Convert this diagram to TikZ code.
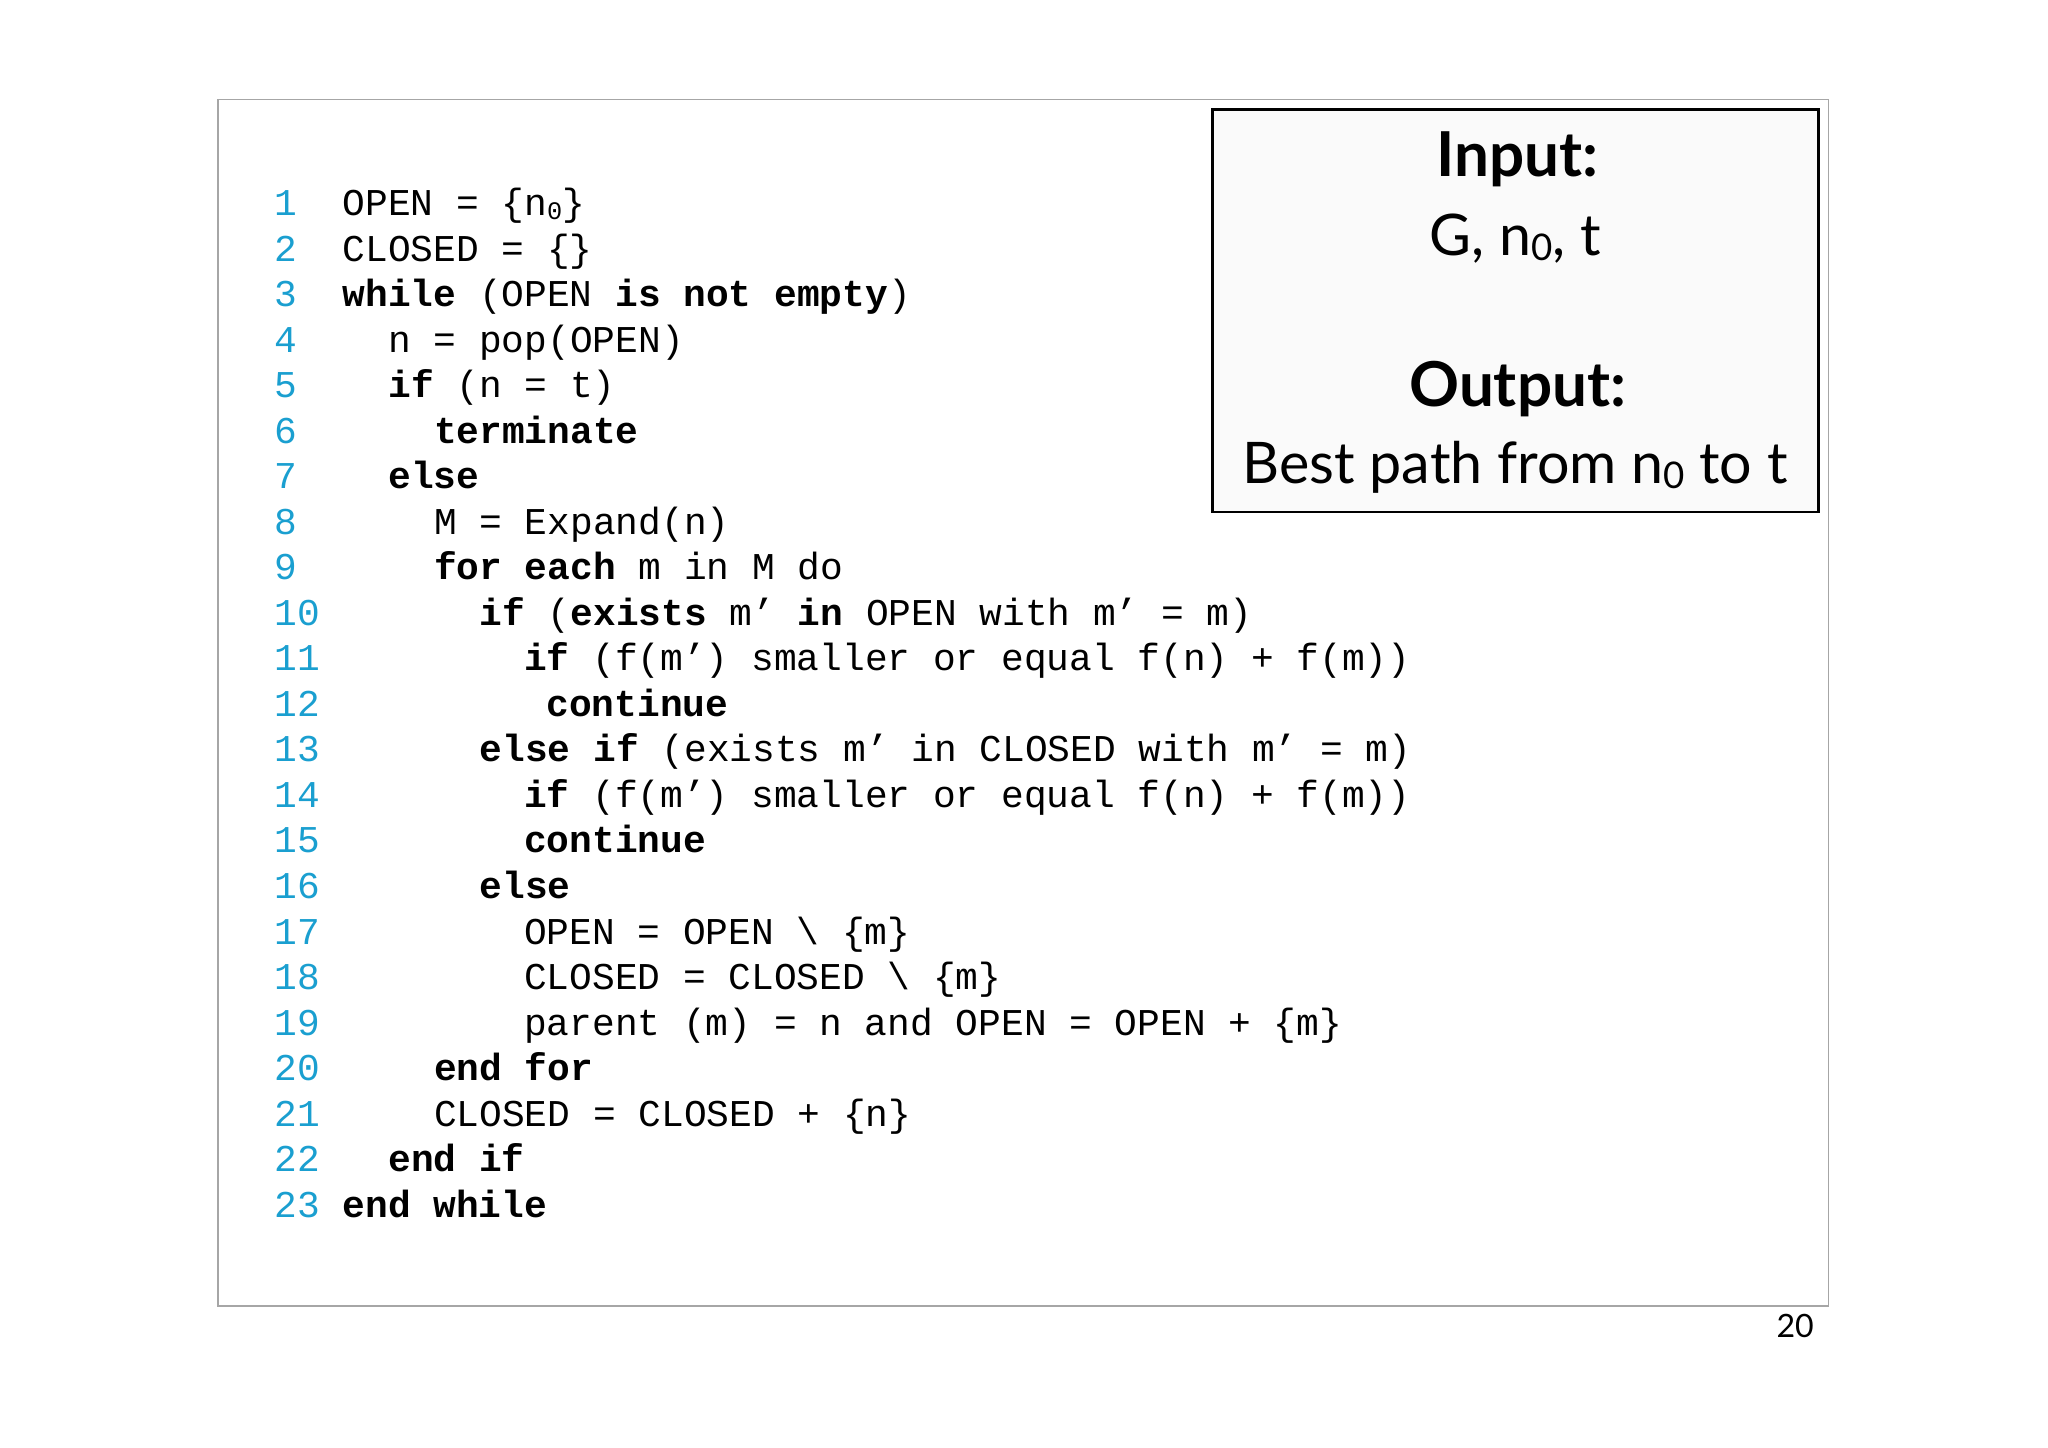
\documentclass[tikz,border=0pt]{standalone}
\usepackage{fontspec}
\setmainfont{Lato}
\setmonofont{Liberation Mono}
\definecolor{lnum}{HTML}{1A9FD0}
\begin{document}
\begin{tikzpicture}[x=0.02cm,y=-0.02cm,
  code/.style={anchor=base west,inner sep=0pt,font=\ttfamily\fontsize{16.5}{18}\selectfont},
  num/.style={anchor=base west,inner sep=0pt,text=lnum,font=\ttfamily\fontsize{16.5}{18}\selectfont},
  box/.style={anchor=center,inner sep=0pt}]
\useasboundingbox (0,0) rectangle (1568,1108);
\fill[white] (0,0) rectangle (1568,1108);
\draw[gray!70,line width=0.6pt] (167,76) rectangle (1400,1000);
\node[anchor=base east,inner sep=0pt,font=\fontsize{14}{16}\selectfont] (pg) at (1389,1024) {20};
\draw[fill=gray!4,line width=1.3pt] (928,84) rectangle (1392,392);
\node[box,font=\fontsize{27}{30}\selectfont\bfseries] (in) at (1162,122) {Input:};
\node[box,font=\fontsize{25}{28}\selectfont] (inv) at (1160,183) {G, n\raisebox{-0.15ex}{\fontsize{16}{16}\selectfont 0}, t};
\node[box,font=\fontsize{27}{30}\selectfont\bfseries] (out) at (1162,298) {Output:};
\node[box,font=\fontsize{25}{28}\selectfont] (outv) at (1160,358) {Best path from n\raisebox{-0.15ex}{\fontsize{16}{16}\selectfont 0} to t};
\def\ln#1#2#3{\node[num] (n#1) at (210,{156+(#1-1)*34.86+9}) {#1}; \node[code] (c#1) at (#2,{156+(#1-1)*34.86+9}) {#3};}
\ln{1}{262}{OPEN = \{n\raisebox{-0.2ex}{\fontsize{11}{11}\selectfont 0}\}}
\ln{2}{262}{CLOSED = \{\}}
\ln{3}{262}{\textbf{while} (OPEN \textbf{is not empty})}
\ln{4}{297}{n = pop(OPEN)}
\ln{5}{297}{\textbf{if} (n = t)}
\ln{6}{332}{\textbf{terminate}}
\ln{7}{297}{\textbf{else}}
\ln{8}{332}{M = Expand(n)}
\ln{9}{332}{\textbf{for each} m in M do}
\ln{10}{367}{\textbf{if} (\textbf{exists} m’ \textbf{in} OPEN with m’ = m)}
\ln{11}{401}{\textbf{if} (f(m’) smaller or equal f(n) + f(m))}
\ln{12}{418}{\textbf{continue}}
\ln{13}{367}{\textbf{else if} (exists m’ in CLOSED with m’ = m)}
\ln{14}{401}{\textbf{if} (f(m’) smaller or equal f(n) + f(m))}
\ln{15}{401}{\textbf{continue}}
\ln{16}{367}{\textbf{else}}
\ln{17}{401}{OPEN = OPEN \textbackslash{} \{m\}}
\ln{18}{401}{CLOSED = CLOSED \textbackslash{} \{m\}}
\ln{19}{401}{parent (m) = n and OPEN = OPEN + \{m\}}
\ln{20}{332}{\textbf{end for}}
\ln{21}{332}{CLOSED = CLOSED + \{n\}}
\ln{22}{297}{\textbf{end if}}
\ln{23}{262}{\textbf{end while}}
\end{tikzpicture}
\end{document}
